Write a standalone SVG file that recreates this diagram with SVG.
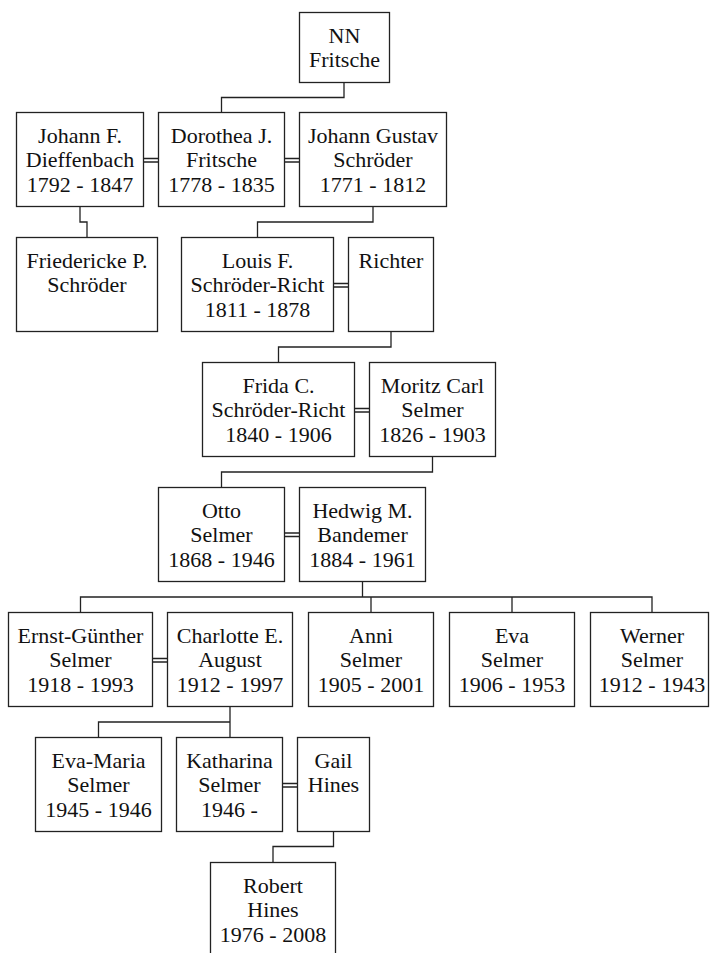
<svg xmlns="http://www.w3.org/2000/svg" width="711" height="953" viewBox="0 0 711 953">
<style>
.b{fill:#fff;stroke:#222;stroke-width:1.3}
.t{font-family:"Liberation Serif","Times New Roman",serif;font-size:22px;fill:#111;text-anchor:middle}
.c{fill:none;stroke:#222;stroke-width:1.3}
</style>
<rect width="711" height="953" fill="#fff"/>
<g id="connectors">
<path class="c" d="M344,82.5V97.5H221.5V112.5"/>
<path class="c" d="M80,206.5V222H87V237.5"/>
<path class="c" d="M373,206.5V222H257.5V237.5"/>
<path class="c" d="M391,331.5V347H278.5V362.5"/>
<path class="c" d="M432.5,456.5V472H221.5V487.5"/>
<path class="c" d="M362.5,581.5V597M80.5,612.5V597H652V612.5M371,597V612.5M512,597V612.5"/>
<path class="c" d="M230,706.5V737.5M98.5,737.5V722H230"/>
<path class="c" d="M333.5,831.5V846.5H273V862.5"/>
<path class="c" d="M143.5,158.5H158.5M143.5,162H158.5"/>
<path class="c" d="M284.5,158.5H299.5M284.5,162H299.5"/>
<path class="c" d="M333.5,283.5H348.5M333.5,287H348.5"/>
<path class="c" d="M354.5,408.5H369.5M354.5,412H369.5"/>
<path class="c" d="M284.5,533H299.5M284.5,536.5H299.5"/>
<path class="c" d="M152.5,658.5H167.5M152.5,662H167.5"/>
<path class="c" d="M282.5,783.5H297.5M282.5,787H297.5"/>
</g>
<g id="nn-fritsche"><rect class="b" x="299.5" y="12.5" width="90" height="70"/><text class="t" x="344.5" y="42.5">NN</text><text class="t" x="344.5" y="66.5">Fritsche</text></g>
<g id="johann-f"><rect class="b" x="16.5" y="112.5" width="127" height="94"/><text class="t" x="80" y="142.5">Johann F.</text><text class="t" x="80" y="167">Dieffenbach</text><text class="t" x="80" y="191.5">1792 - 1847</text></g>
<g id="dorothea"><rect class="b" x="158.5" y="112.5" width="126" height="94"/><text class="t" x="221.5" y="142.5">Dorothea J.</text><text class="t" x="221.5" y="167">Fritsche</text><text class="t" x="221.5" y="191.5">1778 - 1835</text></g>
<g id="johann-gustav"><rect class="b" x="299.5" y="112.5" width="147" height="94"/><text class="t" x="373" y="142.5">Johann Gustav</text><text class="t" x="373" y="167">Schröder</text><text class="t" x="373" y="191.5">1771 - 1812</text></g>
<g id="friedericke"><rect class="b" x="16.5" y="237.5" width="141" height="94"/><text class="t" x="87" y="267.5">Friedericke P.</text><text class="t" x="87" y="292">Schröder</text></g>
<g id="louis"><rect class="b" x="181.5" y="237.5" width="152" height="94"/><text class="t" x="257.5" y="267.5">Louis F.</text><text class="t" x="257.5" y="292">Schröder-Richt</text><text class="t" x="257.5" y="316.5">1811 - 1878</text></g>
<g id="richter"><rect class="b" x="348.5" y="237.5" width="85" height="94"/><text class="t" x="391" y="267.5">Richter</text></g>
<g id="frida"><rect class="b" x="202.5" y="362.5" width="152" height="94"/><text class="t" x="278.5" y="392.5">Frida C.</text><text class="t" x="278.5" y="417">Schröder-Richt</text><text class="t" x="278.5" y="441.5">1840 - 1906</text></g>
<g id="moritz"><rect class="b" x="369.5" y="362.5" width="126" height="94"/><text class="t" x="432.5" y="392.5">Moritz Carl</text><text class="t" x="432.5" y="417">Selmer</text><text class="t" x="432.5" y="441.5">1826 - 1903</text></g>
<g id="otto"><rect class="b" x="158.5" y="487.5" width="126" height="94"/><text class="t" x="221.5" y="517.5">Otto</text><text class="t" x="221.5" y="542">Selmer</text><text class="t" x="221.5" y="566.5">1868 - 1946</text></g>
<g id="hedwig"><rect class="b" x="299.5" y="487.5" width="126" height="94"/><text class="t" x="362.5" y="517.5">Hedwig M.</text><text class="t" x="362.5" y="542">Bandemer</text><text class="t" x="362.5" y="566.5">1884 - 1961</text></g>
<g id="ernst"><rect class="b" x="8.5" y="612.5" width="144" height="94"/><text class="t" x="80.5" y="642.5">Ernst-Günther</text><text class="t" x="80.5" y="667">Selmer</text><text class="t" x="80.5" y="691.5">1918 - 1993</text></g>
<g id="charlotte"><rect class="b" x="167.5" y="612.5" width="125" height="94"/><text class="t" x="230" y="642.5">Charlotte E.</text><text class="t" x="230" y="667">August</text><text class="t" x="230" y="691.5">1912 - 1997</text></g>
<g id="anni"><rect class="b" x="308.5" y="612.5" width="125" height="94"/><text class="t" x="371" y="642.5">Anni</text><text class="t" x="371" y="667">Selmer</text><text class="t" x="371" y="691.5">1905 - 2001</text></g>
<g id="eva"><rect class="b" x="449.5" y="612.5" width="125" height="94"/><text class="t" x="512" y="642.5">Eva</text><text class="t" x="512" y="667">Selmer</text><text class="t" x="512" y="691.5">1906 - 1953</text></g>
<g id="werner"><rect class="b" x="590.5" y="612.5" width="118" height="94"/><text class="t" x="652" y="642.5">Werner</text><text class="t" x="652" y="667">Selmer</text><text class="t" x="652" y="691.5">1912 - 1943</text></g>
<g id="eva-maria"><rect class="b" x="35.5" y="737.5" width="126" height="94"/><text class="t" x="98.5" y="767.5">Eva-Maria</text><text class="t" x="98.5" y="792">Selmer</text><text class="t" x="98.5" y="816.5">1945 - 1946</text></g>
<g id="katharina"><rect class="b" x="176.5" y="737.5" width="106" height="94"/><text class="t" x="229.5" y="767.5">Katharina</text><text class="t" x="229.5" y="792">Selmer</text><text class="t" x="229.5" y="816.5">1946 -</text></g>
<g id="gail"><rect class="b" x="297.5" y="737.5" width="72" height="94"/><text class="t" x="333.5" y="767.5">Gail</text><text class="t" x="333.5" y="792">Hines</text></g>
<g id="robert"><rect class="b" x="210.5" y="862.5" width="125" height="100"/><text class="t" x="273" y="892.5">Robert</text><text class="t" x="273" y="917">Hines</text><text class="t" x="273" y="941.5">1976 - 2008</text></g>
</svg>
